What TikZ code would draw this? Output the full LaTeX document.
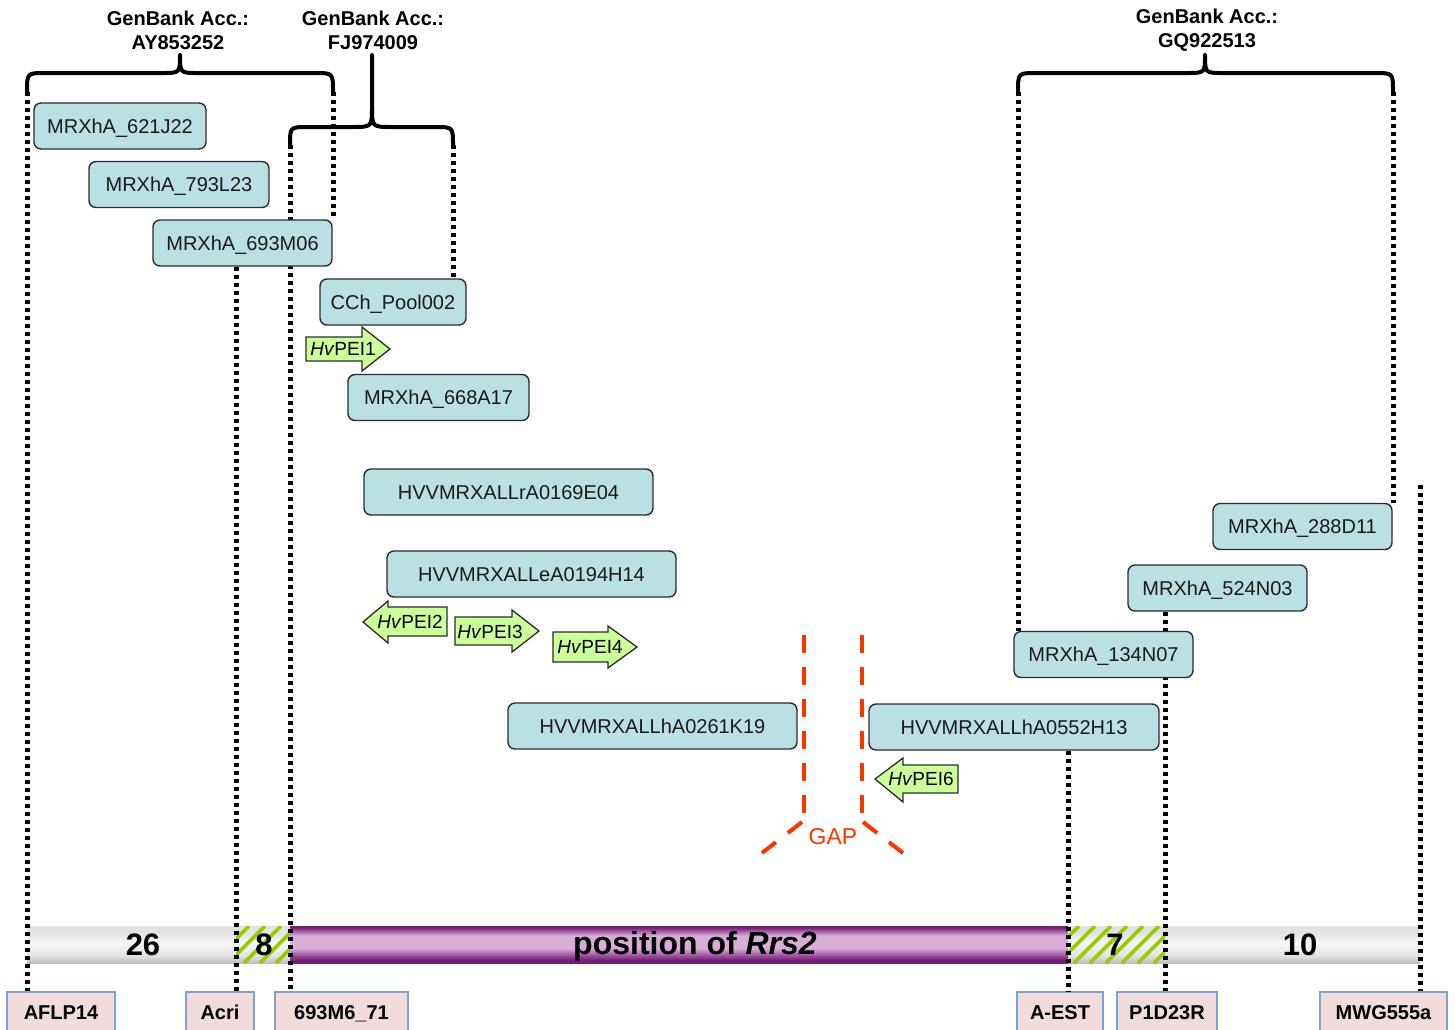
\documentclass[tikz,border=0pt]{standalone}
\usepackage{fontspec}
\setmainfont{Liberation Sans}
\definecolor{boxfill}{HTML}{BBE0E3}
\definecolor{boxdraw}{HTML}{2B2B2B}
\definecolor{peifill}{HTML}{CCFF99}
\definecolor{labfill}{HTML}{F2DCDB}
\definecolor{labdraw}{HTML}{7DA1D4}
\definecolor{gapred}{HTML}{FF3300}
\definecolor{hatchgreen}{HTML}{99CC00}
\definecolor{purd}{HTML}{721E72}
\definecolor{purm}{HTML}{A860A8}
\definecolor{purl}{HTML}{D8ADD8}
\definecolor{gra}{HTML}{BDBDBD}
\definecolor{grb}{HTML}{E2E2E2}
\definecolor{grc}{HTML}{F7F7F7}
\pgfdeclareverticalshading{purplebar}{100bp}{color(0bp)=(purd); color(25bp)=(purd); color(29bp)=(purd); color(37bp)=(purm); color(45bp)=(purl); color(62bp)=(purl); color(68bp)=(purm); color(73bp)=(purd); color(75bp)=(purd); color(100bp)=(purd)}
\pgfdeclareverticalshading{graybar}{100bp}{color(0bp)=(gra); color(25bp)=(gra); color(35bp)=(grb); color(52bp)=(grc); color(66bp)=(grb); color(75bp)=(grb); color(100bp)=(grb)}
\begin{document}
\begin{tikzpicture}[x=1pt,y=-1pt,
 clone/.style={draw=boxdraw, line width=1.4pt, fill=boxfill, rounded corners=7pt, minimum height=46pt, inner sep=0pt, text height=14pt, text depth=0pt, font=\fontsize{20}{24}\selectfont, text=black!90},
 marker/.style={draw=labdraw, line width=1.3pt, fill=labfill, minimum height=40pt, inner sep=0pt, text height=14.5pt, text depth=0pt, font=\bfseries\fontsize{20}{24}\selectfont},
 dotline/.style={line width=5pt, dash pattern=on 4pt off 4pt},
 bracepath/.style={line width=4pt, line join=round, line cap=round},
 acc/.style={align=center, font=\bfseries\fontsize{20}{24}\selectfont, inner sep=0pt},
 pei/.style={draw=boxdraw, line width=1.3pt, fill=peifill, line join=miter},
 peitext/.style={font=\fontsize{19}{22}\selectfont, inner sep=0pt, text height=13.5pt, text depth=0pt},
 gapline/.style={draw=gapred, line width=4pt, dash pattern=on 18pt off 14pt},
 barnum/.style={font=\bfseries\fontsize{31}{36}\selectfont, inner sep=0pt},
 gaptext/.style={text=gapred, font=\fontsize{23}{26}\selectfont, inner sep=0pt}
]
\useasboundingbox (0,0) rectangle (1455,1029);
\clip (0,0) rectangle (1455,1029);

% ---------- bar ----------
\shade[shading=graybar] (27,926) rectangle (236,963);
\shade[shading=graybar] (236,926) rectangle (290,963);
\shade[shading=purplebar] (290,926) rectangle (1068,963);
\shade[shading=graybar] (1068,926) rectangle (1165,963);
\shade[shading=graybar] (1165,926) rectangle (1420,963);
\begin{scope}
  \clip (236,926) rectangle (290,963);
  \foreach \i in {180,196,...,320} \draw[hatchgreen, line width=3.6pt] (\i,963) -- (\i+37,926);
\end{scope}
\begin{scope}
  \clip (1068,926) rectangle (1165,963);
  \foreach \i in {1010,1026,...,1190} \draw[hatchgreen, line width=3.6pt] (\i,963) -- (\i+37,926);
\end{scope}
\coordinate (s1) at (236,945);
\coordinate (s2) at (290,945);
\coordinate (s3) at (1068,945);
\coordinate (s4) at (1165,945);
\coordinate (s5) at (1420,945);
\node[barnum] (n26) at (143,945) {26};
\node[barnum] (n8) at (264,945) {8};
\node[barnum, font=\bfseries\fontsize{32}{36}\selectfont] (nrrs) at (695,946) {position of \textit{Rrs2}};
\node[barnum] (n7) at (1115,945) {7};
\node[barnum] (n10) at (1300,945) {10};

% ---------- marker labels ----------
\node[marker, minimum width=108pt] (aflp) at (61,1012) {AFLP14};
\node[marker, minimum width=68pt] (acri) at (220,1012) {Acri};
\node[marker, minimum width=133pt] (m693) at (341.5,1012) {693M6\_71};
\node[marker, minimum width=86pt] (aest) at (1060,1012) {A-EST};
\node[marker, minimum width=100pt] (p1d) at (1167,1012) {P1D23R};
\node[marker, minimum width=127pt] (mwg) at (1383.5,1012) {MWG555a};

% ---------- brace end coordinates ----------
\coordinate (br1L) at (27,92);
\coordinate (br1R) at (333,92);
\coordinate (br2L) at (290,145);
\coordinate (br2R) at (453,145);
\coordinate (br3L) at (1018,92);
\coordinate (br3R) at (1393,92);
\coordinate (mwgtop) at (1420,485);

% ---------- clone box positions ----------
\path
 (120,126) coordinate (c621)
 (179,184.5) coordinate (c793)
 (242.5,243) coordinate (c693)
 (393,302) coordinate (ccch)
 (438.5,397.5) coordinate (c668)
 (508.5,492) coordinate (c169)
 (531.5,574) coordinate (c194)
 (652.5,726) coordinate (c261)
 (1014,727) coordinate (c552)
 (1103.5,654.5) coordinate (c134)
 (1217.5,588) coordinate (c524)
 (1302.5,526.5) coordinate (c288);

% outlines placed first so that the dotted lines can refer to them
\node[clone, minimum width=179pt, draw=none, fill=none] (b693p) at (c693) {};
\node[clone, minimum width=146pt, draw=none, fill=none] (bcchp) at (ccch) {};
\node[clone, minimum width=290pt, draw=none, fill=none] (b552p) at (c552) {};
\node[clone, minimum width=179pt, draw=none, fill=none] (b134p) at (c134) {};
\node[clone, minimum width=179pt, draw=none, fill=none] (b524p) at (c524) {};
\node[clone, minimum width=179pt, draw=none, fill=none] (b288p) at (c288) {};

% ---------- dotted lines ----------
\draw[dotline] (br1L) -- (aflp.north -| br1L);
\draw[dotline] (br1R) -- (b693p.north -| br1R);
\draw[dotline] (br2L) -- (m693.north -| br2L);
\draw[dotline] (br2R) -- (bcchp.north -| br2R);
\draw[dotline] (b693p.south -| s1) -- (acri.north -| s1);
\draw[dotline] (br3L) -- (b134p.north -| br3L);
\draw[dotline] (br3R) -- (b288p.north -| br3R);
\draw[dotline] (b524p.south -| s4) -- (p1d.north -| s4);
\draw[dotline] (b552p.south -| s3) -- (aest.north -| s3);
\draw[dotline] (mwgtop) -- (mwg.north -| mwgtop);

% ---------- braces ----------
\draw[bracepath] (br1L) .. controls (27,73) .. (45,73) -- (162,73)
  .. controls (180,73) .. (180,55) .. controls (180,73) .. (198,73)
  -- (315,73) .. controls (333,73) .. (br1R);
\draw[bracepath] (br2L) .. controls (290,127) .. (308,127) -- (352,127)
  .. controls (372,127) .. (372,107) -- (372,55);
\draw[bracepath] (372,107) .. controls (372,127) .. (392,127) -- (435,127)
  .. controls (453,127) .. (br2R);
\draw[bracepath] (br3L) .. controls (1018,73) .. (1036,73) -- (1187,73)
  .. controls (1205,73) .. (1205,55) .. controls (1205,73) .. (1223,73)
  -- (1375,73) .. controls (1393,73) .. (br3R);
\node[acc] (acc1) at (178,30) {GenBank Acc.:\\AY853252};
\node[acc] (acc2) at (373,30) {GenBank Acc.:\\FJ974009};
\node[acc] (acc3) at (1207,30) {GenBank Acc.:\\GQ922513};

% ---------- clone boxes ----------
\node[clone, minimum width=172pt] (b621) at (c621) {MRXhA\_621J22};
\node[clone, minimum width=180pt] (b793) at (c793) {MRXhA\_793L23};
\node[clone, minimum width=179pt] (b693) at (c693) {MRXhA\_693M06};
\node[clone, minimum width=146pt] (bcch) at (ccch) {CCh\_Pool002};
\node[clone, minimum width=181pt] (b668) at (c668) {MRXhA\_668A17};
\node[clone, minimum width=289pt] (b169) at (c169) {HVVMRXALLrA0169E04};
\node[clone, minimum width=289pt] (b194) at (c194) {HVVMRXALLeA0194H14};
\node[clone, minimum width=289pt] (b261) at (c261) {HVVMRXALLhA0261K19};
\node[clone, minimum width=290pt] (b552) at (c552) {HVVMRXALLhA0552H13};
\node[clone, minimum width=179pt] (b134) at (c134) {MRXhA\_134N07};
\node[clone, minimum width=179pt] (b524) at (c524) {MRXhA\_524N03};
\node[clone, minimum width=179pt] (b288) at (c288) {MRXhA\_288D11};

% ---------- gene arrows ----------
\draw[pei] (306,337) -- (362,337) -- (362,327) -- (390,349) -- (362,371) -- (362,361) -- (306,361) -- cycle;
\node[peitext] (pei1) at (343,349) {\textit{Hv}PEI1};
\draw[pei] (447,607) -- (388,607) -- (388,601) -- (363,622) -- (388,643) -- (388,636) -- (447,636) -- cycle;
\node[peitext] (pei2) at (410,622) {\textit{Hv}PEI2};
\draw[pei] (455,617) -- (512,617) -- (512,610) -- (539,631) -- (512,652) -- (512,645) -- (455,645) -- cycle;
\node[peitext] (pei3) at (490,632) {\textit{Hv}PEI3};
\draw[pei] (553,632) -- (608,632) -- (608,626) -- (637,647) -- (608,668) -- (608,662) -- (553,662) -- cycle;
\node[peitext] (pei4) at (590,647) {\textit{Hv}PEI4};
\draw[pei] (958,765) -- (903,765) -- (903,758) -- (875,779) -- (903,802) -- (903,793) -- (958,793) -- cycle;
\node[peitext] (pei6) at (921,779) {\textit{Hv}PEI6};

% ---------- gap ----------
\draw[gapline] (804,635) -- (804,813);
\draw[gapline] (862,635) -- (862,813);
\draw[gapline, dash pattern=on 18pt off 15pt] (802,822) -- (762,853);
\draw[gapline, dash pattern=on 18pt off 15pt] (863,822) -- (903,853);
\node[gaptext] (gap) at (833,837) {GAP};
\end{tikzpicture}
\end{document}
